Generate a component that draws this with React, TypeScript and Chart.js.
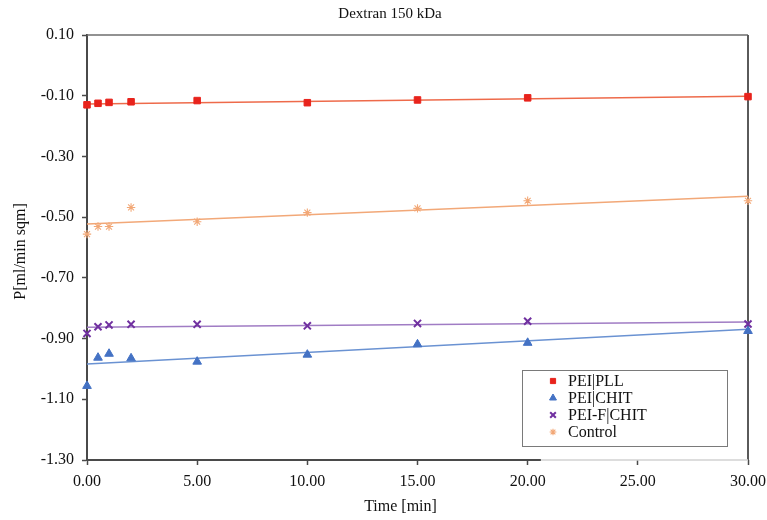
import React, { useEffect, useRef } from "react";
import { Chart, registerables } from "chart.js";
import { drawPoint } from "chart.js/helpers";

Chart.register(...registerables);

// Sampling times (min)
const timeMin = [0, 0.5, 1, 2, 5, 10, 15, 20, 30];

// Measured permeability values P [ml/min sqm]
const peiPll = [-0.13, -0.125, -0.122, -0.12, -0.116, -0.123, -0.114, -0.107, -0.103];
const peiChit = [-1.056, -0.963, -0.95, -0.965, -0.976, -0.953, -0.919, -0.914, -0.875];
const peiFChit = [-0.883, -0.861, -0.855, -0.853, -0.853, -0.858, -0.85, -0.843, -0.852];
const control = [-0.556, -0.531, -0.531, -0.468, -0.515, -0.485, -0.471, -0.446, -0.446];

// Linear trend line end points (at t = 0 and t = 30)
const trendTimes = [0, 30];
const peiPllTrend = [-0.127, -0.102];
const peiChitTrend = [-0.984, -0.869];
const peiFChitTrend = [-0.863, -0.845];
const controlTrend = [-0.523, -0.431];

const seriesNames = ["PEI|PLL", "PEI|CHIT", "PEI-F|CHIT", "Control"];

const FONT = "'Liberation Serif', 'Times New Roman', serif";

const toPoints = (xs: number[], ys: number[]) => xs.map((x, i) => ({ x, y: ys[i] }));

type SeriesStyle = {
  marker: string;
  markerColor: string;
  lineColor: string;
  radius: number;
  border: number;
};

const styles: SeriesStyle[] = [
  { marker: "rect", markerColor: "#E8231C", lineColor: "#EE6A4A", radius: 4.6, border: 1 },
  { marker: "triangle", markerColor: "#4472C4", lineColor: "#6A92D2", radius: 5, border: 1 },
  { marker: "crossRot", markerColor: "#7030A0", lineColor: "#A07CC4", radius: 5, border: 2 },
  { marker: "star", markerColor: "#F2A877", lineColor: "#F2A878", radius: 4.2, border: 1.1 },
];

const pointSets = [peiPll, peiChit, peiFChit, control];
const trendSets = [peiPllTrend, peiChitTrend, peiFChitTrend, controlTrend];

const decorPlugin = {
  id: "decor",
  beforeDatasetsDraw(chart: any) {
    const { ctx, chartArea } = chart;
    const { left, right, top, bottom } = chartArea;
    ctx.save();
    // top and right frame
    ctx.strokeStyle = "#6E6E6E";
    ctx.lineWidth = 1.5;
    ctx.beginPath();
    ctx.moveTo(left, top);
    ctx.lineTo(right, top);
    ctx.stroke();
    ctx.strokeStyle = "#5A5A5A";
    ctx.lineWidth = 2;
    ctx.beginPath();
    ctx.moveTo(right, top);
    ctx.lineTo(right, bottom);
    ctx.stroke();
    // bottom axis line: dark part then faint part
    const xs = chart.scales.x;
    const split = xs.getPixelForValue(20.6);
    ctx.strokeStyle = "#D2D2D2";
    ctx.lineWidth = 1.5;
    ctx.beginPath();
    ctx.moveTo(split, bottom);
    ctx.lineTo(right, bottom);
    ctx.stroke();
    ctx.strokeStyle = "#4A4A4A";
    ctx.lineWidth = 2;
    ctx.beginPath();
    ctx.moveTo(left, bottom);
    ctx.lineTo(split, bottom);
    ctx.stroke();
    ctx.restore();
  },
  afterDraw(chart: any) {
    const { ctx, chartArea } = chart;
    const { left, right, top, bottom } = chartArea;
    ctx.save();
    ctx.fillStyle = "#111";
    ctx.textAlign = "center";
    ctx.textBaseline = "middle";
    // chart title
    ctx.font = `15px ${FONT}`;
    ctx.fillText("Dextran 150 kDa", 390, 14);
    // x axis title
    ctx.font = `16px ${FONT}`;
    ctx.fillText("Time [min]", (left + right) / 2 - 17, 507);
    // y axis title
    ctx.save();
    ctx.translate(21, (top + bottom) / 2 + 4);
    ctx.rotate(-Math.PI / 2);
    ctx.fillText("P[ml/min sqm]", 0, 0);
    ctx.restore();

    // legend box
    const bx = right - 226;
    const by = bottom - 90;
    const bw = 205;
    const bh = 76;
    ctx.fillStyle = "#fff";
    ctx.fillRect(bx, by, bw, bh);
    ctx.strokeStyle = "#7A7A7A";
    ctx.lineWidth = 1;
    ctx.strokeRect(bx + 0.5, by + 0.5, bw, bh);
    ctx.font = `16px ${FONT}`;
    ctx.textAlign = "left";
    ctx.textBaseline = "middle";
    seriesNames.forEach((name, i) => {
      const st = styles[i];
      const cy = by + 11 + i * 17;
      ctx.fillStyle = st.markerColor;
      ctx.strokeStyle = st.markerColor;
      ctx.lineWidth = st.border;
      drawPoint(ctx, { pointStyle: st.marker as any, radius: st.radius * 0.8, borderWidth: st.border, rotation: 0 }, bx + 31, cy);
      ctx.fillStyle = "#111";
      ctx.fillText(name, bx + 46, cy + 1);
    });
    ctx.restore();
  },
};

export default function App() {
  const canvasRef = useRef<HTMLCanvasElement | null>(null);

  useEffect(() => {
    document.body.style.margin = "0";
    const canvas = canvasRef.current;
    if (!canvas) return;

    const datasets: any[] = [];
    seriesNames.forEach((name, i) => {
      const st = styles[i];
      datasets.push({
        type: "line",
        label: name + " trend",
        data: toPoints(trendTimes, trendSets[i]),
        borderColor: st.lineColor,
        borderWidth: 1.5,
        pointRadius: 0,
        showLine: true,
        fill: false,
        order: 2,
      });
    });
    seriesNames.forEach((name, i) => {
      const st = styles[i];
      datasets.push({
        type: "scatter",
        label: name,
        data: toPoints(timeMin, pointSets[i]),
        pointStyle: st.marker,
        pointRadius: st.radius,
        pointBackgroundColor: st.markerColor,
        pointBorderColor: st.markerColor,
        pointBorderWidth: st.border,
        showLine: false,
        clip: false,
        order: 1,
      });
    });

    const chart = new Chart(canvas, {
      type: "scatter",
      data: { datasets },
      options: {
        responsive: false,
        animation: false,
        devicePixelRatio: 1,
        layout: { padding: { left: 0, right: 19, top: 35, bottom: 0 } },
        plugins: {
          legend: { display: false },
          title: { display: false },
          tooltip: { enabled: false },
        },
        scales: {
          x: {
            type: "linear",
            min: 0,
            max: 30,
            afterFit: (scale: any) => {
              scale.height = 60;
              scale.paddingLeft = 0;
              scale.paddingRight = 0;
            },
            ticks: {
              stepSize: 5,
              padding: 7,
              color: "#111",
              font: { family: FONT, size: 16 },
              callback: (v: any) => Number(v).toFixed(2),
            },
            grid: {
              drawOnChartArea: false,
              drawTicks: true,
              tickLength: 5,
              tickColor: "#4A4A4A",
              tickWidth: 1.5,
            },
            border: { display: false },
          },
          y: {
            type: "linear",
            min: -1.3,
            max: 0.1,
            afterFit: (scale: any) => {
              scale.width = 87;
              scale.paddingTop = 0;
              scale.paddingBottom = 0;
            },
            ticks: {
              stepSize: 0.2,
              padding: 8,
              color: "#111",
              font: { family: FONT, size: 16 },
              callback: (v: any) => Number(v).toFixed(2),
            },
            grid: {
              drawOnChartArea: false,
              drawTicks: true,
              tickLength: 5,
              tickColor: "#4A4A4A",
              tickWidth: 1.5,
            },
            border: { display: true, color: "#4A4A4A", width: 2 },
          },
        },
      },
      plugins: [decorPlugin],
    });

    return () => chart.destroy();
  }, []);

  return (
    <div style={{ position: "absolute", left: 0, top: 0, width: 767, height: 520, background: "#fff" }}>
      <canvas ref={canvasRef} width={767} height={520} />
    </div>
  );
}
